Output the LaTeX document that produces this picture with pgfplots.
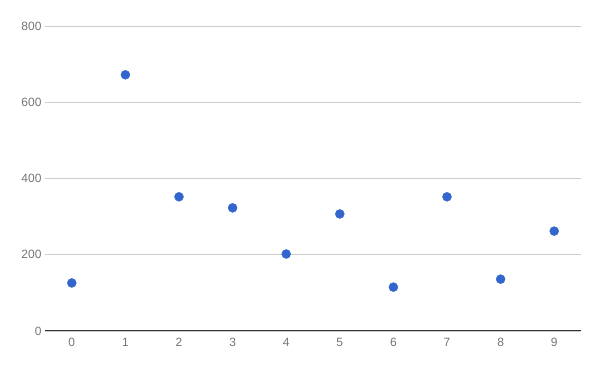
\documentclass[border=0pt]{standalone}
\usepackage{fontspec}
\setmainfont{Liberation Sans}
\usepackage{pgfplots}
\pgfplotsset{compat=1.18}
\definecolor{ptblue}{HTML}{3366CC}
\definecolor{gridgray}{HTML}{CCCCCC}
\definecolor{ticktext}{HTML}{757575}
\begin{document}
\begin{tikzpicture}
\path[use as bounding box] (0,0) rectangle (600pt,371pt);
\begin{axis}[
  at={(45pt,40pt)}, anchor=south west,
  scale only axis, width=536pt, height=305pt,
  xmin=-0.5, xmax=9.5, ymin=0, ymax=800,
  xtick={0,...,9}, ytick={0,200,400,600,800},
  axis line style={draw=none},
  major tick length=0pt,
  ymajorgrids, grid style={gridgray, line width=0.8pt},
  tick label style={font=\fontsize{12}{14}\selectfont, text=ticktext},
  /pgf/number format/assume math mode=true,
  yticklabel style={xshift=0pt},
  xticklabel style={yshift=-4pt},
  clip=false,
]
\addplot[ptblue, only marks, mark=*, mark size=4.5pt, mark options={draw=ptblue, fill=ptblue}] coordinates {
(0,126) (1,672) (2,352) (3,323) (4,202) (5,307) (6,115) (7,352) (8,136) (9,262)
};
\draw[black!80, line width=1pt] (axis cs:-0.5,0) -- (axis cs:9.5,0);
\end{axis}
\end{tikzpicture}
\end{document}
